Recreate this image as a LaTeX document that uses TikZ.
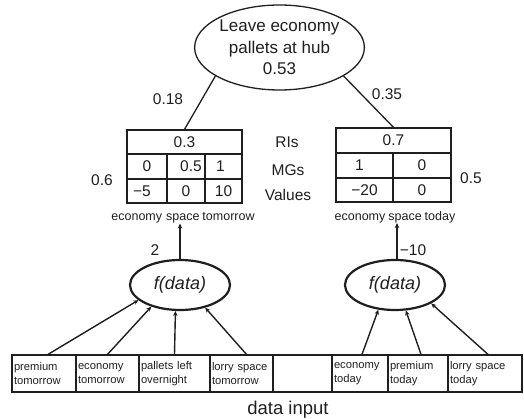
\documentclass[tikz,border=0pt]{standalone}
\usepackage{fontspec}
\setmainfont{Liberation Sans}
\usetikzlibrary{shapes.geometric,arrows.meta}
\definecolor{ink}{rgb}{0.12,0.12,0.12}
\begin{document}
\begin{tikzpicture}[x=1pt,y=-1pt,
  every node/.style={text=ink},
  num/.style={font=\fontsize{15.5}{18}\selectfont, inner sep=0pt},
  cellbox/.style={draw=ink, line width=1.2pt, inner sep=0pt, anchor=center, font=\fontsize{15.5}{18}\selectfont},
  incell/.style={draw=ink, line width=1.2pt, inner sep=0pt, minimum height=37pt, font=\fontsize{11.2}{13.5}\selectfont, align=left},
  fnode/.style={draw=ink, ellipse, line width=2.2pt, minimum width=100pt, minimum height=50pt, inner sep=0pt, font=\fontsize{18}{20}\selectfont\itshape},
  link/.style={draw=ink, line width=1.3pt},
  arr/.style={draw=ink, line width=1.4pt, -{Stealth[length=5pt,width=4.5pt]}},
  small/.style={font=\fontsize{12.5}{14}\selectfont, inner sep=0pt}
]
\useasboundingbox (0,0) rectangle (524,419);

% top ellipse
\node[draw=ink, ellipse, line width=1.3pt, minimum width=165pt, minimum height=85pt, inner sep=0pt,
      align=center, font=\fontsize{17}{21.5}\selectfont] (top) at (279.5,47.5)
      {Leave economy\\pallets at hub\\0.53};

% left table
\node[cellbox, minimum width=115pt, minimum height=24pt] (la) at (184.5,142) {0.3};
\node[cellbox, minimum width=40pt, minimum height=25pt] (lb1) at (147,166.5) {0};
\node[cellbox, minimum width=38pt, minimum height=25pt] (lb2) at (186,166.5) {\hspace*{10pt}0.5};
\node[cellbox, minimum width=37pt, minimum height=25pt] (lb3) at (223.5,166.5) {1\hspace*{6pt}};
\node[cellbox, minimum width=40pt, minimum height=24pt] (lc1) at (147,191) {−5\hspace*{10pt}};
\node[cellbox, minimum width=38pt, minimum height=24pt] (lc2) at (186,191) {0};
\node[cellbox, minimum width=37pt, minimum height=24pt] (lc3) at (223.5,191) {10};

% right table
\node[cellbox, minimum width=115pt, minimum height=25pt] (ra) at (393.5,140.5) {0.7};
\node[cellbox, minimum width=57pt, minimum height=25pt] (rb1) at (364.5,165.5) {1\hspace*{10pt}};
\node[cellbox, minimum width=58pt, minimum height=25pt] (rb2) at (422,165.5) {0};
\node[cellbox, minimum width=57pt, minimum height=24pt] (rc1) at (364.5,190) {−20};
\node[cellbox, minimum width=58pt, minimum height=24pt] (rc2) at (422,190) {0};

% middle labels
\node[num] (ris) at (287,142) {RIs};
\node[num] (mgs) at (288,170) {MGs};
\node[num] (vals) at (288,195) {Values};
\node[num] (sixl) at (102,180) {0.6};
\node[num] (fiver) at (471,178) {0.5};

% edges from top
\draw[link] (top.204) -- (la.north);
\draw[link] (top.336) -- (ra.north);
\node[num] (w1) at (168,99) {0.18};
\node[num] (w2) at (387,94) {0.35};

% attribute labels
\node[small] (lab1) at (183,218) {economy\hspace{4pt}space\hspace{3pt}tomorrow};
\node[small] (lab2) at (395,217) {economy\hspace{3pt}space\hspace{3pt}today};

% f(data) nodes
\node[fnode] (fl) at (180,285) {f(data)};
\node[fnode] (fr) at (395,285) {f(data)};

\draw[arr] (fl.north) -- (fl.north |- lab1.south);
\draw[arr] ([xshift=2pt]fr.north) -- ([xshift=2pt]fr.north |- lab2.south);
\node[num] (two) at (155,250) {2};
\node[num] (mten) at (413,250) {−10};

% data input row
\node[incell, minimum width=64pt, text width=60pt] (c1) at (44,373.5) {premium\\tomorrow};
\node[incell, minimum width=63pt, text width=59pt] (c2) at (107.5,373.5) {economy\\tomorrow};
\node[incell, minimum width=71pt, text width=67pt] (c3) at (174.5,373.5) {pallets left\\overnight};
\node[incell, minimum width=63pt, text width=59pt] (c4) at (241.5,373.5) {lorry space\\tomorrow};
\node[incell, minimum width=59pt] (c5) at (302.5,373.5) {};
\node[incell, minimum width=56pt, text width=52pt] (c6) at (360,373.5) {economy\\today};
\node[incell, minimum width=60pt, text width=56pt] (c7) at (418,373.5) {premium\\today};
\node[incell, minimum width=74pt, text width=70pt] (c8) at (485,373.5) {lorry space\\today};

\node[font=\fontsize{18.5}{20}\selectfont, inner sep=0pt] (din) at (288,410) {data input};

% arrows into f(data)
\draw[arr] ([xshift=4pt]c1.north) -- (fl.200);
\draw[arr] (c2.north) -- (fl.217);
\draw[arr] (c3.north) -- (fl.260);
\draw[arr] ([xshift=5pt]c4.north) -- (fl.318);
\draw[arr] ([xshift=2pt]c6.north) -- (fr.236);
\draw[arr] ([xshift=3pt]c7.north) -- (fr.293);
\draw[arr] ([xshift=3pt]c8.north) -- (fr.333);
\end{tikzpicture}
\end{document}
